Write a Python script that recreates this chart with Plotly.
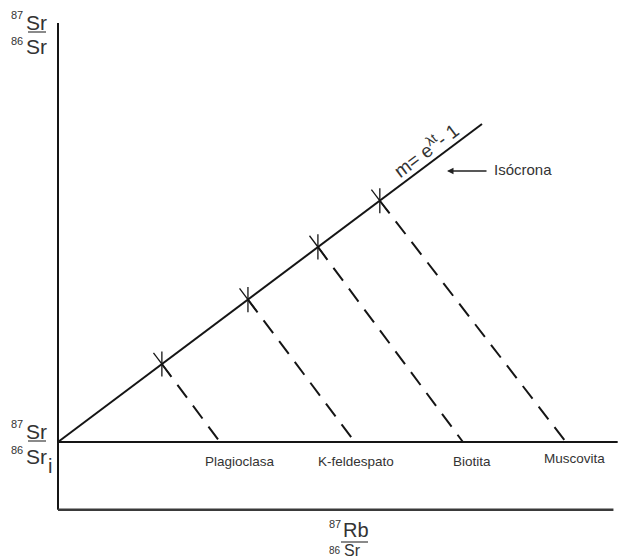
import plotly.graph_objects as go

# ---- data (schematic Rb-Sr isochron, arbitrary units) ----
minerales = ["Plagioclasa", "K-feldespato", "Biotita", "Muscovita"]
rb_sr_actual = [2.45, 4.48, 6.13, 7.59]      # 87Rb/86Sr today (stars)
sr_sr_actual = [1.84, 3.36, 4.60, 5.69]      # 87Sr/86Sr today (stars)
rb_sr_inicial = [3.82, 7.00, 9.55, 11.98]    # positions on the initial line
sr_sr_inicial = [0.0, 0.0, 0.0, 0.0]         # (87Sr/86Sr)i
isocrona_x = [0.0, 10.0]
isocrona_y = [0.0, 7.5]
linea_inicial_x = [0.0, 13.2]
eje_y = [-1.6, 9.88]
eje_x = [0.0, 13.1]

# page body has an 8px margin; figure fills the rest of the 630x560 window
OFF = 8
W, H = 630 - OFF, 560 - OFF
K = 42.4           # px per unit
X0, Y0 = 58, 442   # window pixel of origin

def px(x):
    return (x - OFF) / W

def py(y):
    return 1 - (y - OFF) / H

LINE = "#151515"
TXT = "#333333"
FONT = "Liberation Sans, Arial, sans-serif"

fig = go.Figure()

# axes
fig.add_trace(go.Scatter(x=[0, 0], y=eje_y, mode="lines",
                         line=dict(color=LINE, width=2), hoverinfo="skip"))
fig.add_trace(go.Scatter(x=eje_x, y=[eje_y[0], eje_y[0]], mode="lines",
                         line=dict(color="#3a3a3a", width=2.5), hoverinfo="skip"))
# initial ratio line
fig.add_trace(go.Scatter(x=linea_inicial_x, y=[0, 0], mode="lines",
                         line=dict(color=LINE, width=2), hoverinfo="skip"))
# isochron
fig.add_trace(go.Scatter(x=isocrona_x, y=isocrona_y, mode="lines",
                         line=dict(color=LINE, width=2), hoverinfo="skip"))
# dashed evolution lines
for xa, ya, xi, yi in zip(rb_sr_actual, sr_sr_actual, rb_sr_inicial, sr_sr_inicial):
    fig.add_trace(go.Scatter(x=[xa, xi], y=[ya, yi], mode="lines",
                             line=dict(color=LINE, width=2, dash="16px,10px"),
                             hoverinfo="skip"))
# star markers
fig.add_trace(go.Scatter(x=rb_sr_actual, y=sr_sr_actual, mode="markers",
                         marker=dict(symbol="line-ns-open", size=18, color=LINE,
                                     line=dict(color=LINE, width=1.3)),
                         hoverinfo="skip"))
fig.add_trace(go.Scatter(x=rb_sr_actual, y=sr_sr_actual, mode="markers",
                         marker=dict(symbol="line-ns-open", size=20, angle=-36.87,
                                     color=LINE, line=dict(color=LINE, width=1.3)),
                         hoverinfo="skip"))

ann = []

def txt(text, x, y, size, xanchor="center", yanchor="middle", color=TXT, angle=0):
    ann.append(dict(text=text, x=px(x), y=py(y), xref="paper", yref="paper",
                    showarrow=False, xanchor=xanchor, yanchor=yanchor,
                    textangle=angle,
                    font=dict(family=FONT, size=size, color=color)))

# top-left y label
txt("87", 17, 15, 11)
txt("Sr", 24, 22, 21, xanchor="left")
txt("86", 17, 41, 11)
txt("Sr", 24, 47, 21, xanchor="left")
# bottom-left initial ratio label
txt("87", 17, 424, 11)
txt("Sr", 24, 431, 21, xanchor="left")
txt("86", 17, 450, 11)
txt("Sr", 24, 456, 21, xanchor="left")
txt("i", 46, 466, 20, xanchor="left")
# x label
txt("87", 335, 524, 11)
txt("Rb", 341, 530, 20, xanchor="left")
txt("86", 335, 550, 10)
txt("Sr", 342, 561, 16, xanchor="left", yanchor="bottom")

# mineral labels
label_px = [240, 356, 472, 574]
label_py = [461, 461, 461, 458]
for name, lx, ly in zip(minerales, label_px, label_py):
    txt(name, lx, ly, 13.5)

# isochron equation
txt("m= e<sup>λt</sup>- 1", 425, 150, 19, angle=-36.87)
# Isócrona with arrow
txt("Isócrona", 492, 170, 15, xanchor="left")
ann.append(dict(x=px(447), y=py(171), xref="paper", yref="paper",
                ax=41, ay=0, showarrow=True, arrowhead=2, arrowsize=1,
                arrowwidth=1.3, arrowcolor="#222222", text=""))

shapes = []
for (x1, x2, yy) in [(28, 46, 32), (28, 46, 441), (341, 368, 542)]:
    shapes.append(dict(type="line", xref="paper", yref="paper",
                       x0=px(x1), x1=px(x2), y0=py(yy), y1=py(yy),
                       line=dict(color="#8a8a8a", width=2)))

fig.update_layout(
    width=W, height=H,
    margin=dict(l=0, r=0, t=0, b=0),
    paper_bgcolor="white", plot_bgcolor="white",
    showlegend=False,
    xaxis=dict(range=[(OFF - X0) / K, (630 - X0) / K], visible=False, fixedrange=True),
    yaxis=dict(range=[(Y0 - 560) / K, (Y0 - OFF) / K], visible=False, fixedrange=True),
    annotations=ann, shapes=shapes,
)

fig.write_html("out.html")
